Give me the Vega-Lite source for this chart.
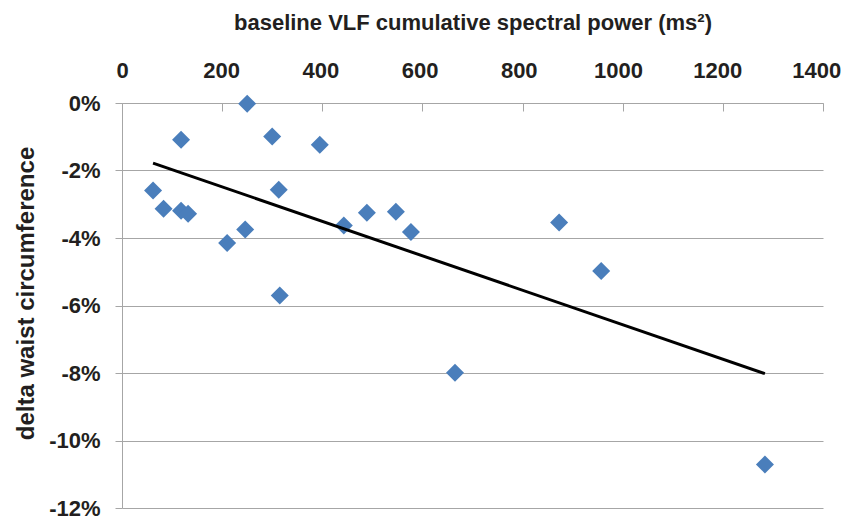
{
  "$schema": "https://vega.github.io/schema/vega-lite/v6.json",
  "width": 701,
  "height": 405,
  "autosize": {"type": "none"},
  "padding": {"left": 122, "top": 103, "right": 23, "bottom": 11},
  "background": "white",
  "config": {
    "view": {"stroke": null},
    "font": "Liberation Sans",
    "axis": {
      "labelFont": "Liberation Sans",
      "titleFont": "Liberation Sans",
      "labelFontWeight": "bold",
      "titleFontWeight": "bold",
      "labelColor": "#231f20",
      "titleColor": "#231f20",
      "labelFontSize": 22,
      "titleFontSize": 22,
      "domainColor": "#a6a6a6",
      "tickColor": "#a6a6a6",
      "gridColor": "#a6a6a6",
      "domainWidth": 1,
      "gridWidth": 1,
      "tickWidth": 1
    }
  },
  "datasets": {
    "points": [
      {"vlf": 62, "waist": -2.59},
      {"vlf": 83, "waist": -3.13},
      {"vlf": 118, "waist": -1.09},
      {"vlf": 118, "waist": -3.19},
      {"vlf": 132, "waist": -3.28},
      {"vlf": 210, "waist": -4.15},
      {"vlf": 246, "waist": -3.75},
      {"vlf": 250, "waist": -0.02},
      {"vlf": 300, "waist": -0.99},
      {"vlf": 313, "waist": -2.57},
      {"vlf": 315, "waist": -5.7},
      {"vlf": 395, "waist": -1.24},
      {"vlf": 443, "waist": -3.63},
      {"vlf": 489, "waist": -3.25},
      {"vlf": 547, "waist": -3.22},
      {"vlf": 577, "waist": -3.82},
      {"vlf": 873, "waist": -3.54},
      {"vlf": 957, "waist": -4.98},
      {"vlf": 665, "waist": -7.99},
      {"vlf": 1284, "waist": -10.71}
    ],
    "trend": [
      {"vlf": 62, "waist": -1.78},
      {"vlf": 1284, "waist": -8.02}
    ]
  },
  "encoding": {
    "x": {
      "field": "vlf",
      "type": "quantitative",
      "scale": {"domain": [0, 1400], "nice": false, "zero": false},
      "axis": {
        "orient": "top",
        "title": "baseline VLF cumulative spectral power (ms²)",
        "values": [0, 200, 400, 600, 800, 1000, 1200, 1400],
        "format": "d",
        "grid": false,
        "ticks": true,
        "tickSize": -8,
        "labelPadding": 34,
        "labelOffset": {"expr": "-datum.value / 210"},
        "labelBaseline": "alphabetic",
        "titleBaseline": "alphabetic",
        "titleY": -74,
        "labelFlush": false,
        "labelOverlap": false
      }
    },
    "y": {
      "field": "waist",
      "type": "quantitative",
      "scale": {"domain": [-12, 0], "nice": false, "zero": false},
      "axis": {
        "title": "delta waist circumference",
        "titleFontSize": 24,
        "values": [0, -2, -4, -6, -8, -10, -12],
        "labelExpr": "datum.value + '%'",
        "grid": true,
        "tickSize": 7,
        "labelPadding": 15,
        "labelBaseline": "middle",
        "titleAngle": -90,
        "titleBaseline": "alphabetic",
        "titleAlign": "center",
        "titleX": -89,
        "titleY": 190,
        "labelFlush": false,
        "labelOverlap": false
      }
    }
  },
  "layer": [
    {
      "data": {"name": "points"},
      "mark": {"type": "point", "shape": "diamond", "filled": true, "size": 324, "color": "#4a7ebb", "opacity": 1}
    },
    {
      "data": {"name": "trend"},
      "mark": {"type": "line", "color": "#000000", "strokeWidth": 3}
    }
  ]
}
